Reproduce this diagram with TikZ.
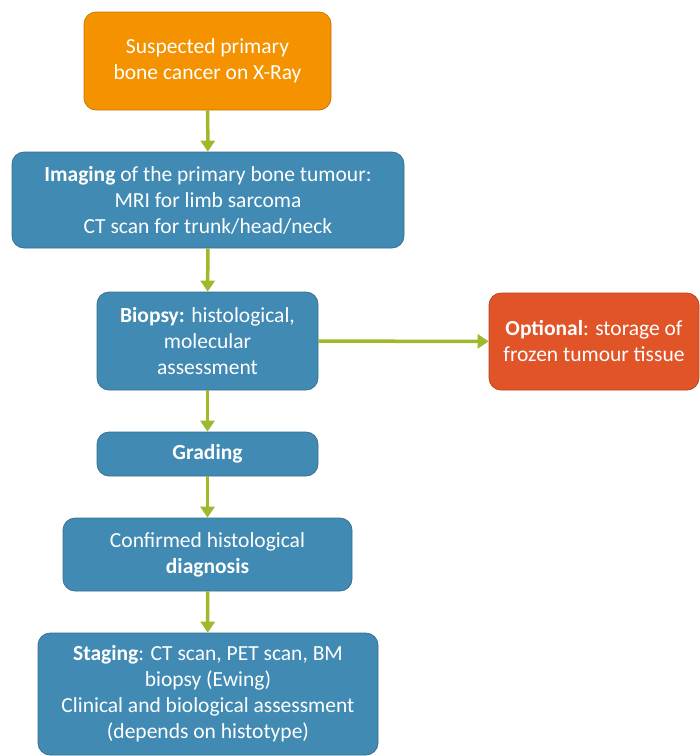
\documentclass[tikz,border=0pt]{standalone}
\usepackage{fontspec}
\setmainfont{Carlito}
\usetikzlibrary{arrows.meta}
\definecolor{xorange}{HTML}{F49200}
\definecolor{xblue}{HTML}{418AB3}
\definecolor{xred}{HTML}{E05428}
\definecolor{xgreen}{HTML}{9DB92C}
\begin{document}
\begin{tikzpicture}[x=1pt, y=-1pt,
  box/.style={draw=#1!80!black, fill=#1, line width=0.7pt, rounded corners=12pt, text=white, align=center, inner sep=0pt, font=\fontsize{21.5}{26}\selectfont},
  flow/.style={draw=xgreen, line width=3.5pt, -{Triangle[length=11pt, width=14pt]}}]
\useasboundingbox (0,0) rectangle (700,756);
% boxes
\node[box=xorange, minimum width=247pt, minimum height=98pt] (xray) at (207.5,61) {Suspected primary\\bone cancer on X-Ray};
\node[box=xblue, minimum width=392pt, minimum height=96pt] (imaging) at (208,200) {\textbf{Imaging} of the primary bone tumour:\\MRI for limb sarcoma\\CT scan for trunk/head/neck};
\node[box=xblue, minimum width=221pt, minimum height=98pt] (biopsy) at (207.5,341) {\textbf{Biopsy:} histological,\\molecular\\assessment};
\node[box=xred, minimum width=210pt, minimum height=97pt] (frozen) at (594,341.5) {\textbf{Optional}: storage of\\frozen tumour tissue};
\node[box=xblue, minimum width=221pt, minimum height=44pt] (grading) at (207.5,454) {\textbf{Grading}};
\node[box=xblue, minimum width=289pt, minimum height=73pt] (diagnosis) at (207.5,554.5) {Confirmed histological\\\textbf{diagnosis}};
\node[box=xblue, minimum width=340pt, minimum height=122pt] (staging) at (208,694) {\textbf{Staging}: CT scan, PET scan, BM\\biopsy (Ewing)\\Clinical and biological assessment\\(depends on histotype)};
% arrows
\foreach \a/\b in {xray/imaging, imaging/biopsy, biopsy/grading, grading/diagnosis, diagnosis/staging} {
  \draw[flow] (\a) -- (\b);
}
\draw[flow] (biopsy) -- (frozen);
\end{tikzpicture}
\end{document}
